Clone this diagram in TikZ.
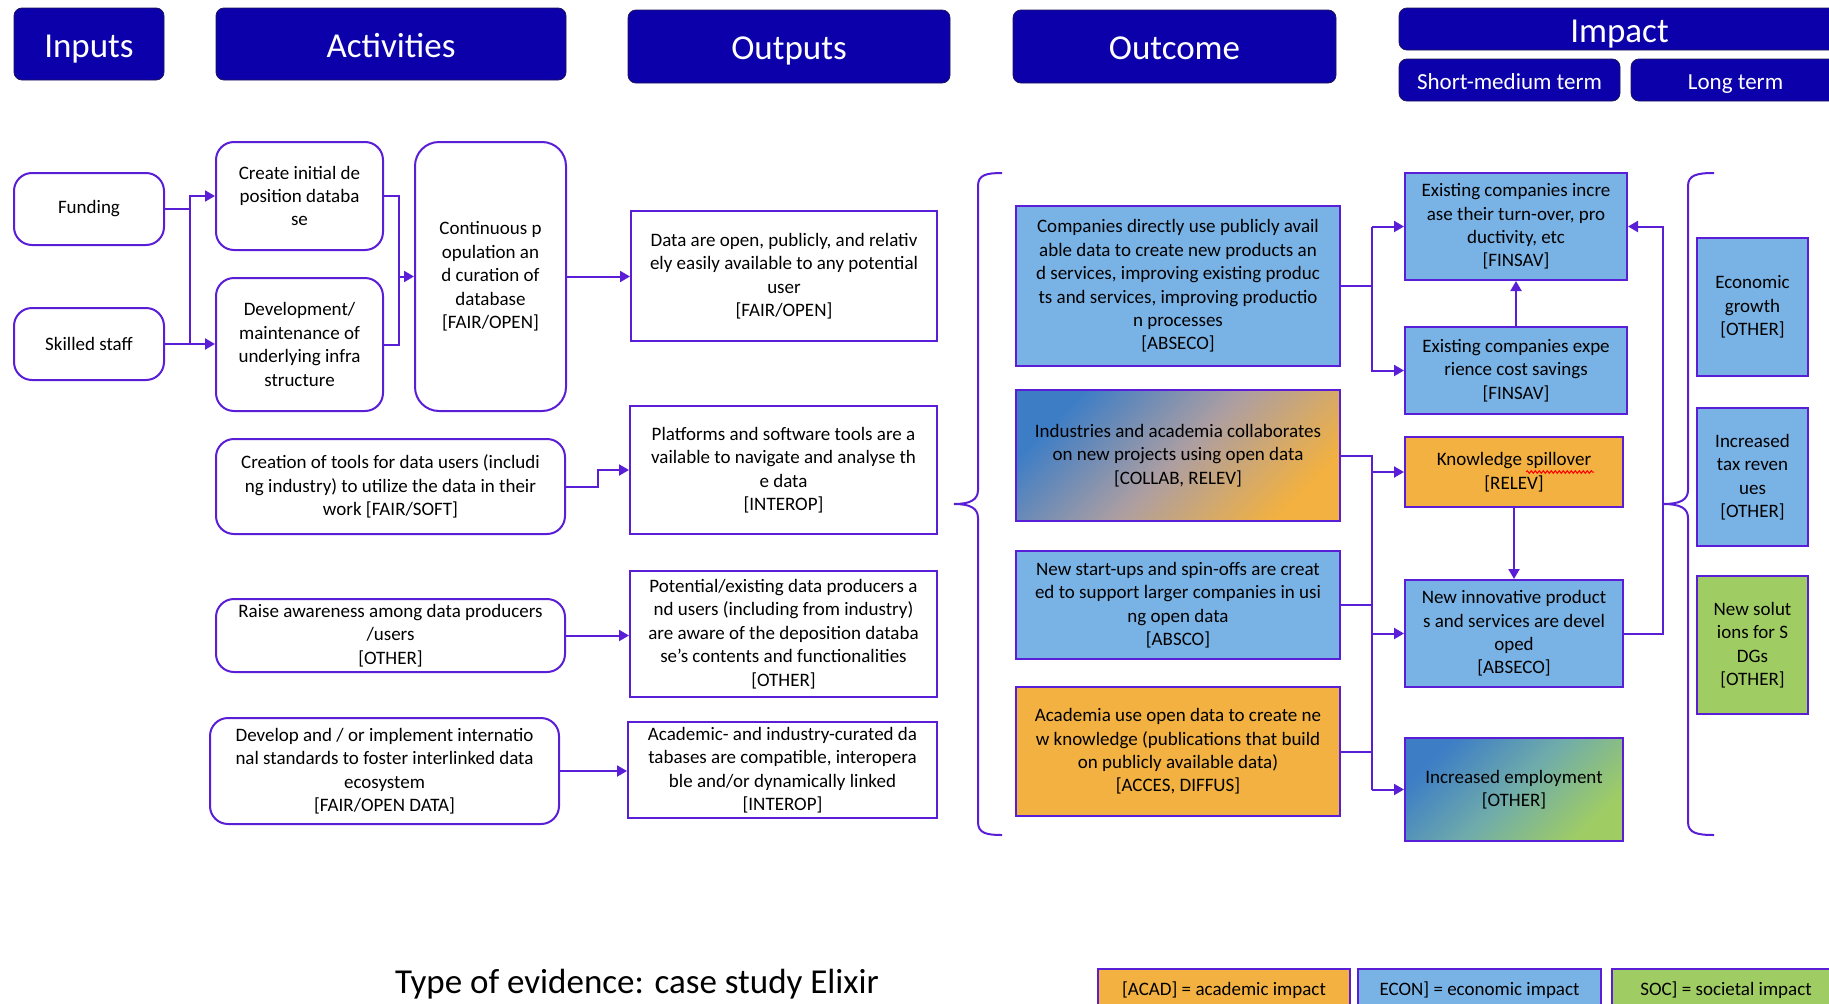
\documentclass[tikz,border=0pt]{standalone}
\usepackage{fontspec}
\setmainfont{Carlito}
\usetikzlibrary{arrows.meta,decorations.pathmorphing}

\definecolor{hdr}{RGB}{11,0,170}
\definecolor{hdrline}{RGB}{30,20,90}
\definecolor{edge}{RGB}{90,30,215}
\definecolor{econ}{RGB}{121,179,230}
\definecolor{acad}{RGB}{242,177,64}
\definecolor{soc}{RGB}{160,205,99}
\definecolor{deepblue}{RGB}{60,125,198}
\definecolor{mauve}{RGB}{172,158,162}
\definecolor{teal}{RGB}{112,172,170}

\newcommand\bodyfont{\fontsize{19}{23.4}\selectfont}

\tikzset{
  spot/.style n args={4}{at={({(#1+#3)/2},{(#2+#4)/2})}, anchor=center,
    minimum width={(#3)-(#1)}, minimum height={(#4)-(#2)}},
  hdrbox/.style={fill=hdr, draw=hdrline, line width=0.8pt, rounded corners=8pt,
    text=white, inner sep=0pt, font=\fontsize{35}{40}\selectfont,
    text height=32pt, text depth=6pt},
  subhdr/.style={hdrbox, font=\fontsize{23}{27}\selectfont,
    text height=19pt, text depth=0.6pt},
  actbox/.style={draw=edge, line width=2pt, rounded corners=18pt, fill=white,
    align=center, inner sep=0pt, font=\bodyfont},
  outbox/.style={draw=edge, line width=2pt, fill=white, align=center,
    inner sep=0pt, font=\bodyfont},
  ecobox/.style={outbox, fill=econ},
  acabox/.style={outbox, fill=acad},
  socbox/.style={outbox, fill=soc},
  mixacad/.style={outbox, top color=deepblue, bottom color=acad, middle color=mauve, shading angle=45},
  mixsoc/.style={outbox, top color=deepblue, bottom color=soc, middle color=teal, shading angle=45},
  conn/.style={draw=edge, line width=2pt},
  arr/.style={conn, -{Triangle[length=10pt,width=11pt]}},
  bracket/.style={draw=edge, line width=2pt},
}

\begin{document}
\begin{tikzpicture}[x=1pt,y=-1pt]
\useasboundingbox (0,0) rectangle (1829,1004);
\clip (0,0) rectangle (1829,1004);

% column headers
\node[hdrbox, spot={14}{8}{164}{80}] (hIn) {Inputs};
\node[hdrbox, spot={216}{8}{566}{80}] (hAct) {Activities};
\node[hdrbox, spot={628}{10}{950}{83}] (hOut) {Outputs};
\node[hdrbox, spot={1013}{10}{1336}{83}] (hOcm) {Outcome};
\node[hdrbox, spot={1399}{8}{1840}{50}] (hImp) {Impact};
\node[subhdr, spot={1399}{59}{1620}{101}] (hSM) {Short-medium term};
\node[subhdr, spot={1631}{59}{1840}{101}] (hLT) {Long term};

% inputs
\node[actbox, spot={14}{173}{164}{245}] (fund) {Funding};
\node[actbox, spot={14}{308}{164}{380}] (staff) {Skilled staff};

% activities
\node[actbox, spot={216}{142}{383}{250}] (create) {Create initial de\\position databa\\se};
\node[actbox, spot={216}{278}{383}{411}] (devel) {Development/\\maintenance of\\underlying infra\\structure};
\node[actbox, rounded corners=24pt, spot={415}{142}{566}{411}] (contin) {Continuous p\\opulation an\\d curation of\\database\\{[FAIR/OPEN]}};
\node[actbox, spot={216}{439}{565}{534}] (tools) {Creation of tools for data users (includi\\ng industry) to utilize the data in their\\work [FAIR/SOFT]};
\node[actbox, spot={216}{599}{565}{672}] (aware) {Raise awareness among data producers\\/users\\{[OTHER]}};
\node[actbox, spot={210}{718}{559}{824}] (stds) {Develop and / or implement internatio\\nal standards to foster interlinked data\\ecosystem\\{[FAIR/OPEN DATA]}};

% outputs
\node[outbox, spot={631}{211}{937}{341}] (oOpen) {Data are open, publicly, and relativ\\ely easily available to any potential\\user\\{[FAIR/OPEN]}};
\node[outbox, spot={630}{406}{937}{534}] (oPlat) {Platforms and software tools are a\\vailable to navigate and analyse th\\e data\\{[INTEROP]}};
\node[outbox, spot={630}{571}{937}{697}] (oAware) {Potential/existing data producers a\\nd users (including from industry)\\are aware of the deposition databa\\se's contents and functionalities\\{[OTHER]}};
\node[outbox, spot={628}{722}{937}{818}] (oComp) {Academic- and industry-curated da\\tabases are compatible, interopera\\ble and/or dynamically linked\\{[INTEROP]}};

% outcomes
\node[ecobox, spot={1016}{206}{1340}{366}] (cDirect) {Companies directly use publicly avail\\able data to create new products an\\d services, improving existing produc\\ts and services, improving productio\\n processes\\{[ABSECO]}};
\node[mixacad, spot={1016}{390}{1340}{521}] (cCollab) {Industries and academia collaborates\\on new projects using open data\\{[COLLAB, RELEV]}};
\node[ecobox, spot={1016}{551}{1340}{659}] (cStart) {New start-ups and spin-offs are creat\\ed to support larger companies in usi\\ng open data\\{[ABSCO]}};
\node[acabox, spot={1016}{687}{1340}{816}] (cAcad) {Academia use open data to create ne\\w knowledge (publications that build\\on publicly available data)\\{[ACCES, DIFFUS]}};

% short-medium term impact
\node[ecobox, spot={1405}{173}{1627}{280}] (sTurn) {Existing companies incre\\ase their turn-over, pro\\ductivity, etc\\{[FINSAV]}};
\node[ecobox, spot={1405}{327}{1627}{414}] (sCost) {Existing companies expe\\rience cost savings\\{[FINSAV]}};
\node[acabox, spot={1405}{437}{1623}{507}] (sKnow) {Knowledge spillover\\{[RELEV]}};
\node[ecobox, spot={1405}{580}{1623}{687}] (sInnov) {New innovative product\\s and services are devel\\oped\\{[ABSECO]}};
\node[mixsoc, spot={1405}{738}{1623}{841}] (sEmpl) {Increased employment\\{[OTHER]}};

% long term impact
\node[ecobox, spot={1697}{238}{1808}{376}] (lGrowth) {Economic\\growth\\{[OTHER]}};
\node[ecobox, spot={1697}{408}{1808}{546}] (lTax) {Increased\\tax reven\\ues\\{[OTHER]}};
\node[socbox, spot={1697}{576}{1808}{714}] (lSDG) {New solut\\ions for S\\DGs\\{[OTHER]}};

% spell-check underline
\draw[red, line width=1pt, decorate, decoration={snake, amplitude=1.3pt, segment length=4pt}]
  (1526,472) -- (1594,472);

% footer
\node[font=\fontsize{35}{40}\selectfont, inner sep=0pt] (evid) at (637,984) {Type of evidence: case study Elixir};
\node[acabox, line width=1.6pt, spot={1098}{969}{1350}{1012}] (kAcad) {[ACAD] = academic impact};
\node[ecobox, line width=1.6pt, spot={1358}{969}{1601}{1012}] (kEcon) {ECON] = economic impact};
\node[socbox, line width=1.6pt, spot={1612}{969}{1840}{1012}] (kSoc) {SOC] = societal impact};

% bus lines
\coordinate (b1) at (190,0);
\coordinate (b2) at (399,0);
\coordinate (b3) at (598,0);
\coordinate (b4) at (1372,0);
\coordinate (b5) at (1663,0);

% inputs -> activities
\draw[conn] (fund.east) -- (fund.east -| b1);
\draw[arr] (staff.east) -- (staff.east -| devel.west);
\draw[arr] (staff.east -| b1) |- (create.west);

% activities -> outputs
\draw[conn] (create.east) -- (create.east -| b2) -- (devel.east -| b2) -- (devel.east);
\draw[arr] (b2 |- contin.west) -- (contin.west);
\draw[arr] (contin.east) -- (contin.east -| oOpen.west);
\draw[arr] (tools.east) -- (tools.east -| b3) -- (b3 |- oPlat.west) -- (oPlat.west);
\draw[arr] (aware.east) -- (aware.east -| oAware.west);
\draw[arr] (stds.east) -- (stds.east -| oComp.west);

% outcomes -> short-medium term impact
\draw[conn] (cDirect.east) -- (cDirect.east -| b4);
\draw[arr] (b4 |- sTurn.west) -- (sTurn.west);
\draw[arr] (b4 |- sTurn.west) |- (sCost.west);
\draw[arr] (sCost.north) -- (sTurn.south);

\draw[conn] (cCollab.east) -- (cCollab.east -| b4) -- (b4 |- sEmpl.west);
\draw[conn] (cStart.east) -- (cStart.east -| b4);
\draw[conn] (cAcad.east) -- (cAcad.east -| b4);
\draw[arr] (b4 |- sKnow.west) -- (sKnow.west);
\draw[arr] (b4 |- sInnov.west) -- (sInnov.west);
\draw[arr] (b4 |- sEmpl.west) -- (sEmpl.west);
\draw[arr] (sKnow.south) -- (sInnov.north);
\draw[arr] (sInnov.east) -- (sInnov.east -| b5) -- (b5 |- sTurn.east) -- (sTurn.east);

% braces
\draw[bracket] (1002,173) .. controls (986,173) and (978,175) .. (978,186)
  -- (978,490) .. controls (978,500) and (970,504) .. (954,504)
  .. controls (970,504) and (978,508) .. (978,518)
  -- (978,822) .. controls (978,833) and (986,835) .. (1002,835);
\draw[bracket] (1714,173) .. controls (1697,173) and (1688,175) .. (1688,186)
  -- (1688,490) .. controls (1688,500) and (1680,504) .. (1663,504)
  .. controls (1680,504) and (1688,508) .. (1688,518)
  -- (1688,822) .. controls (1688,833) and (1697,835) .. (1714,835);
\end{tikzpicture}
\end{document}
